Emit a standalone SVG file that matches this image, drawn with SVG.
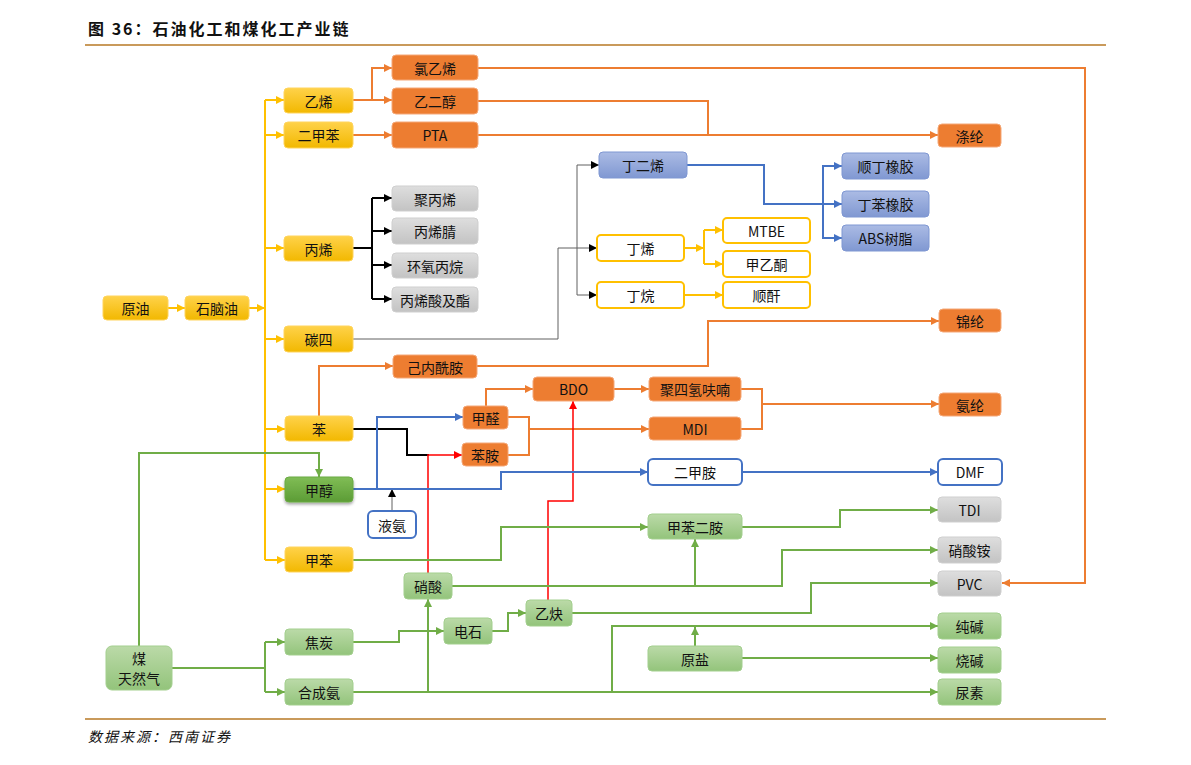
<svg xmlns="http://www.w3.org/2000/svg" width="1191" height="765" viewBox="0 0 1191 765">
<style>
text{font-family:"Noto Sans CJK SC","Noto Sans",sans-serif;fill:#111}
.n text{font-size:14px;text-anchor:middle;dominant-baseline:central}
.y rect{fill:url(#gy);stroke:#ffd45c;stroke-width:1}
.o rect{fill:#ed7d31;stroke:#f5a878;stroke-width:1}
.g rect{fill:url(#gg);stroke:#cfcfcf;stroke-width:1}
.b rect{fill:url(#gb);stroke:#7f97d2;stroke-width:1}
.gr rect{fill:url(#ggr);stroke:#a3cf8e;stroke-width:1}
.yo rect{fill:#fff;stroke:#ffc000;stroke-width:2}
.bo rect{fill:#fff;stroke:#4472c4;stroke-width:2}
.c path{fill:none}
.cy{stroke:#ffc000;stroke-width:2}
.co{stroke:#ed7d31;stroke-width:2}
.ck{stroke:#000;stroke-width:2}
.cg{stroke:#606060;stroke-width:1}
.cr{stroke:#ff0000;stroke-width:1.5}
.cb{stroke:#4472c4;stroke-width:2}
.cn{stroke:#70ad47;stroke-width:2}
</style>
<defs>
<linearGradient id="gy" x1="0" y1="0" x2="0" y2="1"><stop offset="0" stop-color="#ffd24a"/><stop offset="1" stop-color="#f2b800"/></linearGradient>
<linearGradient id="gg" x1="0" y1="0" x2="0" y2="1"><stop offset="0" stop-color="#dedede"/><stop offset="1" stop-color="#c3c3c3"/></linearGradient>
<linearGradient id="gb" x1="0" y1="0" x2="0" y2="1"><stop offset="0" stop-color="#abbbe4"/><stop offset="1" stop-color="#8098d2"/></linearGradient>
<linearGradient id="ggr" x1="0" y1="0" x2="0" y2="1"><stop offset="0" stop-color="#bbdaa8"/><stop offset="1" stop-color="#93c47b"/></linearGradient>
<linearGradient id="gm" x1="0" y1="0" x2="0" y2="1"><stop offset="0" stop-color="#80bd56"/><stop offset="1" stop-color="#5c9c35"/></linearGradient>
<filter id="sh" x="-20%" y="-20%" width="140%" height="160%"><feDropShadow dx="0" dy="2" stdDeviation="1.5" flood-color="#000" flood-opacity="0.35"/></filter>
<marker id="ay" viewBox="0 0 8 8" refX="8" refY="4" markerWidth="8" markerHeight="8" markerUnits="userSpaceOnUse" orient="auto"><path d="M0,0L8,4L0,8z" fill="#ffc000"/></marker>
<marker id="ao" viewBox="0 0 8 8" refX="8" refY="4" markerWidth="8" markerHeight="8" markerUnits="userSpaceOnUse" orient="auto"><path d="M0,0L8,4L0,8z" fill="#ed7d31"/></marker>
<marker id="ak" viewBox="0 0 8 8" refX="8" refY="4" markerWidth="8" markerHeight="8" markerUnits="userSpaceOnUse" orient="auto"><path d="M0,0L8,4L0,8z" fill="#000"/></marker>
<marker id="ag" viewBox="0 0 8 8" refX="8" refY="4" markerWidth="8" markerHeight="8" markerUnits="userSpaceOnUse" orient="auto"><path d="M0,0L8,4L0,8z" fill="#000"/></marker>
<marker id="ar" viewBox="0 0 8 8" refX="8" refY="4" markerWidth="8" markerHeight="8" markerUnits="userSpaceOnUse" orient="auto"><path d="M0,0L8,4L0,8z" fill="#ff0000"/></marker>
<marker id="ab" viewBox="0 0 8 8" refX="8" refY="4" markerWidth="8" markerHeight="8" markerUnits="userSpaceOnUse" orient="auto"><path d="M0,0L8,4L0,8z" fill="#4472c4"/></marker>
<marker id="an" viewBox="0 0 8 8" refX="8" refY="4" markerWidth="8" markerHeight="8" markerUnits="userSpaceOnUse" orient="auto"><path d="M0,0L8,4L0,8z" fill="#70ad47"/></marker>
</defs>
<rect width="1191" height="765" fill="#fff"/>
<text x="88" y="35" font-size="16" font-weight="bold" letter-spacing="2">图 36：石油化工和煤化工产业链</text>
<line x1="85" y1="45" x2="1106" y2="45" stroke="#c99a5b" stroke-width="2"/>
<line x1="85" y1="719" x2="1106" y2="719" stroke="#c99a5b" stroke-width="2"/>
<text x="88" y="742" font-size="14" font-style="italic" letter-spacing="2" fill="#222">数据来源：西南证券</text>

<g id="connectors" class="c">
<!-- yellow -->
<path class="cy" d="M168,308H185" marker-end="url(#ay)"/>
<path class="cy" d="M249,308H265" marker-end="url(#ay)"/>
<path class="cy" d="M265,100V560"/>
<path class="cy" d="M265,100H284" marker-end="url(#ay)"/>
<path class="cy" d="M265,135H284" marker-end="url(#ay)"/>
<path class="cy" d="M265,248H284" marker-end="url(#ay)"/>
<path class="cy" d="M265,339H284" marker-end="url(#ay)"/>
<path class="cy" d="M265,429H285" marker-end="url(#ay)"/>
<path class="cy" d="M265,489H285" marker-end="url(#ay)"/>
<path class="cy" d="M265,560H285" marker-end="url(#ay)"/>
<path class="cy" d="M684,248H704" marker-end="url(#ay)"/>
<path class="cy" d="M704,230V264"/>
<path class="cy" d="M704,230H723" marker-end="url(#ay)"/>
<path class="cy" d="M704,264H723" marker-end="url(#ay)"/>
<path class="cy" d="M684,295H723" marker-end="url(#ay)"/>
<!-- orange -->
<path class="co" d="M353,100H372"/>
<path class="co" d="M372,100V68H392" marker-end="url(#ao)"/>
<path class="co" d="M372,100H392" marker-end="url(#ao)"/>
<path class="co" d="M353,135H392" marker-end="url(#ao)"/>
<path class="co" d="M478,68H1085V583H1002" marker-end="url(#ao)"/>
<path class="co" d="M478,101H708V135"/>
<path class="co" d="M478,135H938" marker-end="url(#ao)"/>
<path class="co" d="M319,416V366H393" marker-end="url(#ao)"/>
<path class="co" d="M477,366H708V321H939" marker-end="url(#ao)"/>
<path class="co" d="M486,406V389H533" marker-end="url(#ao)"/>
<path class="co" d="M508,417H529V455H508"/>
<path class="co" d="M529,429H649" marker-end="url(#ao)"/>
<path class="co" d="M614,389H649" marker-end="url(#ao)"/>
<path class="co" d="M741,389H762V429H741"/>
<path class="co" d="M762,404H939" marker-end="url(#ao)"/>
<!-- black -->
<path class="ck" d="M353,248H372"/>
<path class="ck" d="M372,198V299"/>
<path class="ck" d="M372,198H392" marker-end="url(#ak)"/>
<path class="ck" d="M372,231H392" marker-end="url(#ak)"/>
<path class="ck" d="M372,265H392" marker-end="url(#ak)"/>
<path class="ck" d="M372,299H392" marker-end="url(#ak)"/>
<path class="ck" d="M353,429H407V455H429"/>
<!-- grey -->
<path class="cg" d="M353,339H558V248H597" marker-end="url(#ag)"/>
<path class="cg" d="M577,165H599" marker-end="url(#ag)"/>
<path class="cg" d="M577,165V295H597" marker-end="url(#ag)"/>
<path class="cg" d="M392,511V489" marker-end="url(#ag)"/>
<!-- red -->
<path class="cr" d="M428,573V455H462" marker-end="url(#ar)"/>
<path class="cr" d="M548,600V501H573V401" marker-end="url(#ar)"/>
<!-- blue -->
<path class="cb" d="M687,165H764V204H842" marker-end="url(#ab)"/>
<path class="cb" d="M823,204V166H842" marker-end="url(#ab)"/>
<path class="cb" d="M823,204V238H842" marker-end="url(#ab)"/>
<path class="cb" d="M353,489H501V472H648" marker-end="url(#ab)"/>
<path class="cb" d="M377,489V417H463" marker-end="url(#ab)"/>
<path class="cb" d="M742,472H938" marker-end="url(#ab)"/>
<!-- green -->
<path class="cn" d="M139,646V453H319V477" marker-end="url(#an)"/>
<path class="cn" d="M172,668H265"/>
<path class="cn" d="M265,642V692"/>
<path class="cn" d="M265,642H285" marker-end="url(#an)"/>
<path class="cn" d="M265,692H285" marker-end="url(#an)"/>
<path class="cn" d="M353,642H399V631H444" marker-end="url(#an)"/>
<path class="cn" d="M492,631H508V613H526" marker-end="url(#an)"/>
<path class="cn" d="M353,692H938" marker-end="url(#an)"/>
<path class="cn" d="M428,692V599" marker-end="url(#an)"/>
<path class="cn" d="M612,692V626H938" marker-end="url(#an)"/>
<path class="cn" d="M695,646V627" marker-end="url(#an)"/>
<path class="cn" d="M742,658H938" marker-end="url(#an)"/>
<path class="cn" d="M452,586H782V550H938" marker-end="url(#an)"/>
<path class="cn" d="M695,586V539" marker-end="url(#an)"/>
<path class="cn" d="M572,613H811V583H938" marker-end="url(#an)"/>
<path class="cn" d="M353,560H501V527H648" marker-end="url(#an)"/>
<path class="cn" d="M742,527H840V510H938" marker-end="url(#an)"/>
</g>

<g class="n">
<g id="n-yuanyou" class="y"><rect x="103" y="296" width="65" height="24" rx="4"/><text x="135.5" y="308">原油</text></g>
<g id="n-shinaoyou" class="y"><rect x="185" y="296" width="64" height="24" rx="4"/><text x="217" y="308">石脑油</text></g>
<g id="n-yixi" class="y"><rect x="284" y="88" width="69" height="25" rx="4"/><text x="318.5" y="100.5">乙烯</text></g>
<g id="n-erjiaben" class="y"><rect x="284" y="122" width="69" height="26" rx="4"/><text x="318.5" y="135">二甲苯</text></g>
<g id="n-bingxi" class="y"><rect x="284" y="236" width="69" height="25" rx="4"/><text x="318.5" y="248.5">丙烯</text></g>
<g id="n-tansi" class="y"><rect x="284" y="326" width="69" height="26" rx="4"/><text x="318.5" y="339">碳四</text></g>
<g id="n-ben" class="y"><rect x="285" y="416" width="68" height="25" rx="4"/><text x="319" y="428.5">苯</text></g>
<g id="n-jiachun"><rect x="285" y="477" width="68" height="25" rx="4" fill="url(#gm)" stroke="#6aab42" filter="url(#sh)"/><text x="319" y="489.5">甲醇</text></g>
<g id="n-jiaben" class="y"><rect x="285" y="547" width="68" height="25" rx="4"/><text x="319" y="559.5">甲苯</text></g>

<g id="n-lvyixi" class="o"><rect x="392" y="55" width="86" height="25" rx="4"/><text x="435" y="67.5">氯乙烯</text></g>
<g id="n-yierchun" class="o"><rect x="392" y="88" width="86" height="26" rx="4"/><text x="435" y="101">乙二醇</text></g>
<g id="n-pta" class="o"><rect x="392" y="122" width="86" height="26" rx="4"/><text x="435" y="135">PTA</text></g>
<g id="n-jubingxi" class="g"><rect x="392" y="186" width="86" height="25" rx="4"/><text x="435" y="198.5">聚丙烯</text></g>
<g id="n-bingxijing" class="g"><rect x="392" y="218" width="86" height="26" rx="4"/><text x="435" y="231">丙烯腈</text></g>
<g id="n-huanyangbingwan" class="g"><rect x="392" y="253" width="86" height="25" rx="4"/><text x="435" y="265.5">环氧丙烷</text></g>
<g id="n-bingxisuan" class="g"><rect x="392" y="287" width="86" height="25" rx="4"/><text x="435" y="299.5">丙烯酸及酯</text></g>

<g id="n-dingerxi" class="b"><rect x="599" y="152" width="88" height="26" rx="4"/><text x="643" y="165">丁二烯</text></g>
<g id="n-dingxi" class="yo"><rect x="597" y="235" width="87" height="26" rx="4"/><text x="640.5" y="248">丁烯</text></g>
<g id="n-dingwan" class="yo"><rect x="597" y="282" width="87" height="26" rx="4"/><text x="640.5" y="295">丁烷</text></g>
<g id="n-mtbe" class="yo"><rect x="723" y="218" width="87" height="25" rx="4"/><text x="766.5" y="230.5">MTBE</text></g>
<g id="n-jiayitong" class="yo"><rect x="723" y="251" width="87" height="26" rx="4"/><text x="766.5" y="264">甲乙酮</text></g>
<g id="n-shungan" class="yo"><rect x="723" y="282" width="87" height="26" rx="4"/><text x="766.5" y="295">顺酐</text></g>

<g id="n-shunding" class="b"><rect x="842" y="153" width="87" height="26" rx="4"/><text x="885.5" y="166">顺丁橡胶</text></g>
<g id="n-dingben" class="b"><rect x="842" y="191" width="87" height="26" rx="4"/><text x="885.5" y="204">丁苯橡胶</text></g>
<g id="n-abs" class="b"><rect x="842" y="225" width="87" height="26" rx="4"/><text x="885.5" y="238">ABS树脂</text></g>

<g id="n-dilun" class="o"><rect x="938" y="124" width="63" height="23" rx="4"/><text x="969.5" y="135.5">涤纶</text></g>
<g id="n-jinlun" class="o"><rect x="939" y="309" width="62" height="23" rx="4"/><text x="970" y="320.5">锦纶</text></g>
<g id="n-anlun" class="o"><rect x="939" y="393" width="62" height="23" rx="4"/><text x="970" y="404.5">氨纶</text></g>
<g id="n-dmf" class="bo"><rect x="938" y="459" width="64" height="26" rx="5"/><text x="970" y="472">DMF</text></g>
<g id="n-tdi" class="g"><rect x="938" y="497" width="63" height="25" rx="4"/><text x="969.5" y="509.5">TDI</text></g>
<g id="n-xiaosuanan" class="g"><rect x="938" y="537" width="63" height="26" rx="4"/><text x="969.5" y="550">硝酸铵</text></g>
<g id="n-pvc" class="g"><rect x="938" y="571" width="63" height="25" rx="4"/><text x="969.5" y="583.5">PVC</text></g>
<g id="n-chunjian" class="gr"><rect x="938" y="613" width="63" height="26" rx="4"/><text x="969.5" y="626">纯碱</text></g>
<g id="n-shaojian" class="gr"><rect x="938" y="647" width="63" height="26" rx="4"/><text x="969.5" y="660">烧碱</text></g>
<g id="n-niaosu" class="gr"><rect x="938" y="679" width="63" height="26" rx="4"/><text x="969.5" y="692">尿素</text></g>

<g id="n-jineixianan" class="o"><rect x="393" y="355" width="84" height="23" rx="4"/><text x="435" y="366.5">己内酰胺</text></g>
<g id="n-jiaquan" class="o"><rect x="463" y="406" width="45" height="23" rx="4"/><text x="485.5" y="417.5">甲醛</text></g>
<g id="n-benan" class="o"><rect x="462" y="443" width="46" height="23" rx="4"/><text x="485" y="454.5">苯胺</text></g>
<g id="n-bdo" class="o"><rect x="533" y="377" width="81" height="24" rx="4"/><text x="573.5" y="389">BDO</text></g>
<g id="n-jusiqing" class="o"><rect x="649" y="377" width="92" height="24" rx="4"/><text x="695" y="389">聚四氢呋喃</text></g>
<g id="n-mdi" class="o"><rect x="649" y="417" width="92" height="23" rx="4"/><text x="695" y="428.5">MDI</text></g>
<g id="n-erjiaan" class="bo"><rect x="648" y="459" width="94" height="26" rx="5"/><text x="695" y="472">二甲胺</text></g>
<g id="n-jiabenerean" class="gr"><rect x="648" y="514" width="94" height="25" rx="4"/><text x="695" y="526.5">甲苯二胺</text></g>
<g id="n-yean" class="bo"><rect x="368" y="511" width="48" height="27" rx="5"/><text x="392" y="524.5">液氨</text></g>

<g id="n-xiaosuan" class="gr"><rect x="404" y="573" width="48" height="26" rx="4"/><text x="428" y="586">硝酸</text></g>
<g id="n-dianshi" class="gr"><rect x="444" y="618" width="48" height="26" rx="4"/><text x="468" y="631">电石</text></g>
<g id="n-yique" class="gr"><rect x="526" y="600" width="46" height="26" rx="4"/><text x="549" y="613">乙炔</text></g>
<g id="n-yuanyan" class="gr"><rect x="648" y="646" width="94" height="25" rx="4"/><text x="695" y="658.5">原盐</text></g>
<g id="n-jiaotan" class="gr"><rect x="285" y="629" width="68" height="26" rx="4"/><text x="319" y="642">焦炭</text></g>
<g id="n-hechengan" class="gr"><rect x="285" y="679" width="68" height="26" rx="4"/><text x="319" y="692">合成氨</text></g>
<g id="n-mei" class="gr"><rect x="106" y="646" width="66" height="44" rx="6"/><text x="139" y="658">煤</text><text x="139" y="678">天然气</text></g>
</g>
</svg>
